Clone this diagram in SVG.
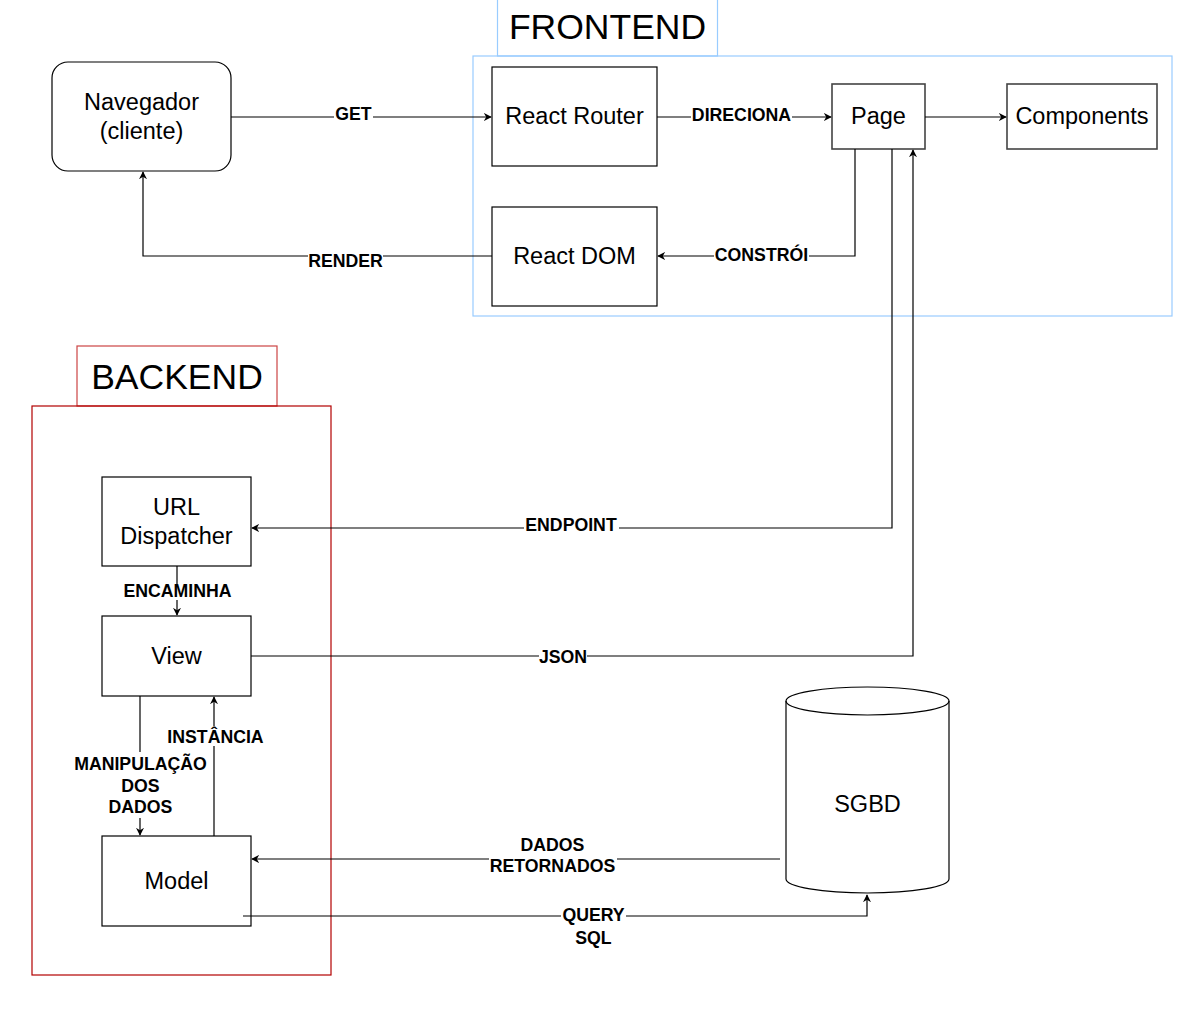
<svg xmlns="http://www.w3.org/2000/svg" width="1204" height="1014" viewBox="0 0 1204 1014">
<defs>
<marker id="arr" viewBox="0 0 10 10" refX="9" refY="5" markerWidth="8" markerHeight="8" markerUnits="userSpaceOnUse" orient="auto">
<path d="M0,0 L10,5 L0,10 L3,5 Z" fill="#000"/>
</marker>
</defs>
<style>
.node{fill:#fff;stroke:#000;stroke-width:1.2}
.gnode{fill:#fff;stroke:#444;stroke-width:1.6}
.t{font-family:"Liberation Sans",Arial,sans-serif;font-size:23.5px;fill:#000;text-anchor:middle}
.title{font-family:"Liberation Sans",Arial,sans-serif;font-size:35.5px;fill:#000;text-anchor:middle}
.lbl{font-family:"Liberation Sans",Arial,sans-serif;font-weight:bold;font-size:17.7px;fill:#000;text-anchor:middle}
.edge{fill:none;stroke:#000;stroke-width:1.2}
.bg{fill:#fff}
</style>
<rect width="1204" height="1014" fill="#fff"/>

<g id="frontend">
<rect x="497.5" y="-5" width="220" height="61" fill="#fff" stroke="#99ccff" stroke-width="1.2"/>
<text class="title" x="607.5" y="39">FRONTEND</text>
<rect x="473" y="56" width="699" height="260" fill="none" stroke="#99ccff" stroke-width="1.2"/>
</g>
<g id="backend">
<rect x="77" y="346" width="200" height="60" fill="#fff" stroke="#cc4444" stroke-width="1.2"/>
<text class="title" x="177" y="389">BACKEND</text>
<rect x="32" y="406" width="299" height="569" fill="none" stroke="#b20000" stroke-width="1.2"/>
</g>

<g id="navegador">
<rect class="node" x="52" y="62" width="179" height="109" rx="16" ry="16"/>
<text class="t" x="141.5" y="110">Navegador</text>
<text class="t" x="141.5" y="139">(cliente)</text>
</g>
<g id="react-router">
<rect class="node" x="492" y="67" width="165" height="99"/>
<text class="t" x="574.5" y="124">React Router</text>
</g>
<g id="react-dom">
<rect class="node" x="492" y="207" width="165" height="99"/>
<text class="t" x="574.5" y="264">React DOM</text>
</g>
<g id="page">
<rect class="gnode" x="832" y="84" width="93" height="65"/>
<text class="t" x="878.5" y="124">Page</text>
</g>
<g id="components">
<rect class="gnode" x="1007" y="84" width="150" height="65"/>
<text class="t" x="1082" y="124">Components</text>
</g>
<g id="url-dispatcher">
<rect class="node" x="102" y="477" width="149" height="89"/>
<text class="t" x="176.5" y="515">URL</text>
<text class="t" x="176.5" y="544">Dispatcher</text>
</g>
<g id="view">
<rect class="node" x="102" y="616" width="149" height="80"/>
<text class="t" x="176.5" y="664">View</text>
</g>
<g id="model">
<rect class="node" x="102" y="836" width="149" height="90"/>
<text class="t" x="176.5" y="889">Model</text>
</g>
<g id="sgbd">
<path class="node" d="M786,701 A81.5,14 0 0 1 949,701 V879 A81.5,14 0 0 1 786,879 Z"/>
<path class="edge" d="M786,701 A81.5,14 0 0 0 949,701"/>
<text class="t" x="867.5" y="812">SGBD</text>
</g>

<g id="connectors">
<path class="edge" d="M231,117 H491" marker-end="url(#arr)"/>
<path class="edge" d="M657,117 H831" marker-end="url(#arr)"/>
<path class="edge" d="M925,117 H1006" marker-end="url(#arr)"/>
<path class="edge" d="M855,149 V256 H658" marker-end="url(#arr)"/>
<path class="edge" d="M492,256 H143 V172" marker-end="url(#arr)"/>
<path class="edge" d="M892,149 V528 H252" marker-end="url(#arr)"/>
<path class="edge" d="M251,656 H913 V150" marker-end="url(#arr)"/>
<path class="edge" d="M177,566 V615" marker-end="url(#arr)"/>
<path class="edge" d="M140,696 V835" marker-end="url(#arr)"/>
<path class="edge" d="M214,836 V697" marker-end="url(#arr)"/>
<path class="edge" d="M780,859 H252" marker-end="url(#arr)"/>
<path class="edge" d="M243,916 H867 V895" marker-end="url(#arr)"/>

<rect class="bg" x="334" y="107" width="39" height="16"/>
<text class="lbl" x="353.5" y="120.3">GET</text>
<rect class="bg" x="691" y="108" width="101" height="16"/>
<text class="lbl" x="741.5" y="121.3">DIRECIONA</text>
<rect class="bg" x="714" y="245" width="95" height="19"/>
<text class="lbl" x="761.5" y="261.3">CONSTRÓI</text>
<rect class="bg" x="308" y="254" width="75" height="16"/>
<text class="lbl" x="345.5" y="267.3">RENDER</text>
<rect class="bg" x="524" y="518" width="95" height="16"/>
<text class="lbl" x="571" y="531.3">ENDPOINT</text>
<rect class="bg" x="122" y="584" width="111" height="16"/>
<text class="lbl" x="177.5" y="597.3">ENCAMINHA</text>
<rect class="bg" x="539" y="650" width="48" height="16"/>
<text class="lbl" x="563" y="663.3">JSON</text>
<rect class="bg" x="166" y="726" width="99" height="20"/>
<text class="lbl" x="215.5" y="743.3">INSTÂNCIA</text>
<rect class="bg" x="72" y="752" width="137" height="66"/>
<text class="lbl" x="140.5" y="770.3">MANIPULAÇÃO</text>
<text class="lbl" x="140.5" y="792.3">DOS</text>
<text class="lbl" x="140.5" y="813.3">DADOS</text>
<rect class="bg" x="489" y="836" width="128" height="40"/>
<text class="lbl" x="552.5" y="851.3">DADOS</text>
<text class="lbl" x="552.5" y="872.3">RETORNADOS</text>
<rect class="bg" x="561" y="906" width="65" height="42"/>
<text class="lbl" x="593.5" y="921.3">QUERY</text>
<text class="lbl" x="593.5" y="944.3">SQL</text>
</g>
</svg>
